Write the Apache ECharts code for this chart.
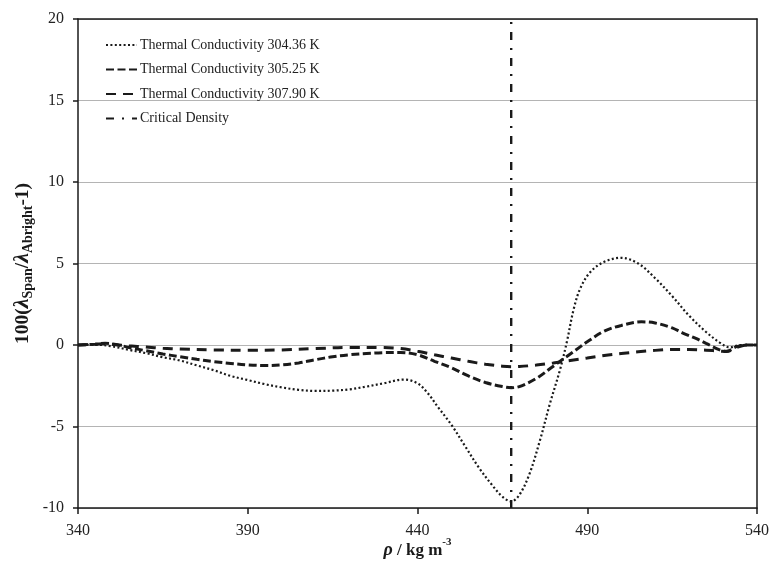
<!DOCTYPE html>
<html>
<head>
<meta charset="utf-8">
<script src="https://cdn.jsdelivr.net/npm/echarts@6/dist/echarts.min.js"></script>
<style>
  html, body { margin: 0; padding: 0; background: #fff; }
  #chart { width: 777px; height: 574px; }
</style>
</head>
<body>
<div id="chart"></div>
<script>
// Density (kg m^-3) and deviation 100(λSpan/λAbright − 1) for three isotherms
const rho304 = [340, 345, 350, 355, 360, 365, 370, 375, 380, 385, 390, 395, 400, 405, 410, 415, 420, 425, 430, 436, 440, 443, 446, 450, 454, 458, 462, 465, 467.6, 470, 473, 476, 479, 482, 484, 486, 488, 491, 495, 500, 505, 510, 515, 520, 525, 529, 532, 535, 540];
const dev304 = [0, 0.02, -0.08, -0.3, -0.5, -0.75, -0.95, -1.25, -1.55, -1.9, -2.15, -2.4, -2.6, -2.75, -2.82, -2.8, -2.72, -2.55, -2.35, -2.12, -2.35, -2.95, -3.8, -4.9, -6.2, -7.5, -8.6, -9.3, -9.6, -9.2, -7.9, -5.9, -3.6, -1.5, 0.2, 2.2, 3.5, 4.5, 5.1, 5.35, 5.0, 4.1, 3.0, 1.8, 0.8, 0.15, -0.15, 0, 0];

const rho305 = [340, 345, 348, 352, 355, 360, 365, 370, 375, 380, 385, 390, 395, 400, 405, 410, 415, 420, 425, 430, 435, 440, 445, 450, 455, 460, 465, 467.6, 470, 475, 480, 485, 488, 490, 495, 500, 506, 510, 515, 518, 522, 525, 529, 531, 534, 537, 540];
const dev305 = [0, 0.05, 0.1, 0.0, -0.15, -0.35, -0.55, -0.72, -0.88, -1.02, -1.13, -1.22, -1.26, -1.22, -1.1, -0.9, -0.72, -0.6, -0.52, -0.47, -0.46, -0.6, -1.0, -1.4, -1.9, -2.3, -2.55, -2.62, -2.55, -2.05, -1.3, -0.55, -0.1, 0.2, 0.85, 1.2, 1.42, 1.35, 1.05, 0.75, 0.4, 0.1, -0.3, -0.38, -0.1, 0, 0];

const rho307 = [340, 345, 348, 352, 355, 360, 365, 370, 380, 390, 400, 410, 420, 430, 435, 440, 445, 450, 455, 460, 465, 467.6, 470, 475, 480, 485, 490, 495, 500, 505, 510, 515, 520, 525, 529, 531, 534, 537, 540];
const dev307 = [0, 0.05, 0.08, 0, -0.05, -0.12, -0.2, -0.25, -0.3, -0.32, -0.3, -0.22, -0.15, -0.16, -0.22, -0.38, -0.6, -0.8, -1.0, -1.18, -1.3, -1.33, -1.32, -1.23, -1.1, -0.95, -0.8, -0.64, -0.52, -0.42, -0.33, -0.27, -0.27, -0.32, -0.37, -0.4, -0.15, 0, 0];

// Critical density of CO2 and the vertical extent of the marker line
const criticalDensity = 467.6;
const criticalSpan = [-10, 20];

// Axis ranges and ticks
const xTicks = [340, 390, 440, 490, 540];
const yTicks = [-10, -5, 0, 5, 10, 15, 20];

const seriesNames = [
  'Thermal Conductivity 304.36 K',
  'Thermal Conductivity 305.25 K',
  'Thermal Conductivity 307.90 K',
  'Critical Density'
];

const pair = (xs, ys) => xs.map((x, i) => [x, ys[i]]);

const serif = '"Liberation Serif", "Times New Roman", "DejaVu Serif", serif';
const ink = '#1a1a1a';

const chart = echarts.init(document.getElementById('chart'), null, { renderer: 'canvas' });

const baseX = {
  type: 'value',
  min: xTicks[0],
  max: xTicks[xTicks.length - 1],
  interval: xTicks[1] - xTicks[0]
};
const baseY = {
  type: 'value',
  min: yTicks[0],
  max: yTicks[yTicks.length - 1],
  interval: yTicks[1] - yTicks[0]
};

chart.setOption({
  animation: false,
  backgroundColor: '#fff',
  grid: { left: 78, right: 20, top: 19, bottom: 66 },
  legend: {
    orient: 'vertical',
    left: 100,
    top: 33,
    itemWidth: 31,
    itemHeight: 14,
    itemGap: 10.5,
    data: seriesNames,
    itemStyle: { opacity: 0 },
    textStyle: { fontFamily: serif, fontSize: 14, color: '#222', padding: [0, 0, 0, -2] }
  },
  xAxis: [
    Object.assign({}, baseX, {
      position: 'bottom',
      name: '{i|ρ}{b| / kg m}{sup|-3}',
      nameLocation: 'middle',
      nameGap: 29,
      nameMoveOverlap: false,
      nameTextStyle: {
        fontFamily: serif, fontSize: 17, fontWeight: 'bold', color: ink,
        rich: {
          i: { fontFamily: serif, fontSize: 18, fontWeight: 'bold', fontStyle: 'italic', color: ink, lineHeight: 22, verticalAlign: 'bottom' },
          b: { fontFamily: serif, fontSize: 17, fontWeight: 'bold', color: ink, lineHeight: 22, verticalAlign: 'bottom' },
          sup: { fontFamily: serif, fontSize: 11, fontWeight: 'bold', color: ink, lineHeight: 12, verticalAlign: 'top' }
        }
      },
      axisLine: { show: true, onZero: false, lineStyle: { color: ink, width: 1.5 } },
      axisTick: { show: true, inside: false, length: 6, lineStyle: { color: ink, width: 1.5 } },
      axisLabel: { fontFamily: serif, fontSize: 16, color: '#222', margin: 15 },
      splitLine: { show: false }
    }),
    Object.assign({}, baseX, {
      position: 'top',
      axisLine: { show: true, onZero: false, lineStyle: { color: ink, width: 1.5 } },
      axisTick: { show: false },
      axisLabel: { show: false },
      splitLine: { show: false }
    })
  ],
  yAxis: [
    Object.assign({}, baseY, {
      position: 'left',
      name: '{m|100(}{l|λ}{sub|Span}{m|/}{l|λ}{sub|Abright}{m|-1)}',
      nameLocation: 'middle',
      nameGap: 43,
      nameRotate: 90,
      nameMoveOverlap: false,
      nameTextStyle: {
        fontFamily: serif, fontSize: 19, fontWeight: 'bold', color: ink,
        rich: {
          m: { fontFamily: serif, fontSize: 19.5, fontWeight: 'bold', color: ink, lineHeight: 25 },
          l: { fontFamily: serif, fontSize: 22, fontWeight: 'bold', fontStyle: 'italic', color: ink, lineHeight: 25 },
          sub: { fontFamily: serif, fontSize: 14, fontWeight: 'bold', color: ink, lineHeight: 14, verticalAlign: 'bottom' }
        }
      },
      axisLine: { show: true, onZero: false, lineStyle: { color: ink, width: 1.5 } },
      axisTick: { show: true, inside: false, length: 5, lineStyle: { color: ink, width: 1.5 } },
      axisLabel: { fontFamily: serif, fontSize: 16, color: '#222', margin: 14 },
      splitLine: { show: true, lineStyle: { color: '#b4b4b4', width: 1.2 } }
    }),
    Object.assign({}, baseY, {
      position: 'right',
      axisLine: { show: true, onZero: false, lineStyle: { color: ink, width: 1.5 } },
      axisTick: { show: false },
      axisLabel: { show: false },
      splitLine: { show: false }
    })
  ],
  series: [
    {
      name: seriesNames[0],
      type: 'line',
      data: pair(rho304, dev304),
      smooth: 0.35,
      symbol: 'none',
      lineStyle: { color: ink, width: 2.2, type: [2, 2.4], cap: 'butt' },
      itemStyle: { color: ink },
      z: 3
    },
    {
      name: seriesNames[1],
      type: 'line',
      data: pair(rho305, dev305),
      smooth: 0.35,
      symbol: 'none',
      lineStyle: { color: ink, width: 3, type: [8, 3.5] },
      itemStyle: { color: ink },
      z: 3
    },
    {
      name: seriesNames[2],
      type: 'line',
      data: pair(rho307, dev307),
      smooth: 0.35,
      symbol: 'none',
      lineStyle: { color: ink, width: 3, type: [10, 7] },
      itemStyle: { color: ink },
      z: 3
    },
    {
      name: seriesNames[3],
      type: 'line',
      data: criticalSpan.map(y => [criticalDensity, y]),
      symbol: 'none',
      lineStyle: { color: ink, width: 2.4, type: [8, 8, 2, 8] },
      itemStyle: { color: ink },
      z: 4
    }
  ]
});
</script>
</body>
</html>
